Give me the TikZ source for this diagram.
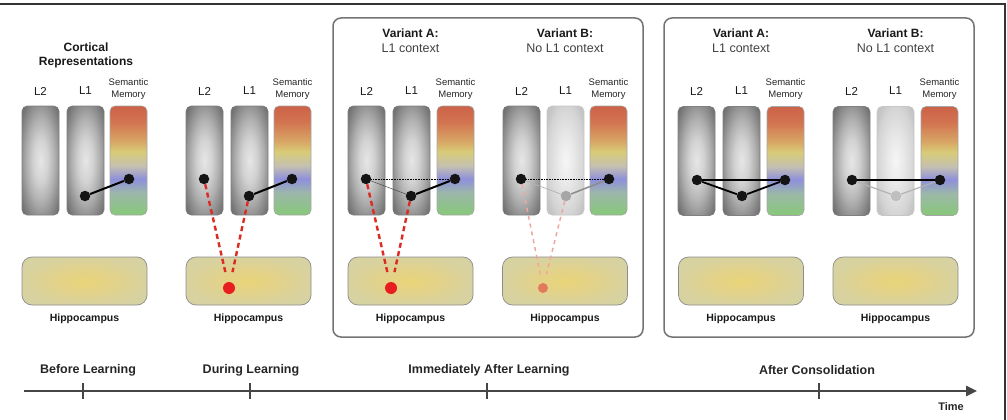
\documentclass[tikz,border=0pt]{standalone}
\usepackage{fontspec}
\setmainfont{Liberation Sans}
\usetikzlibrary{arrows.meta}
\definecolor{gA}{RGB}{230,230,230}
\definecolor{gB}{RGB}{210,210,210}
\definecolor{gC}{RGB}{176,176,176}
\definecolor{gD}{RGB}{148,148,148}
\definecolor{gE}{RGB}{112,112,112}
\definecolor{fA}{RGB}{246,246,246}
\definecolor{fB}{RGB}{234,234,234}
\definecolor{fC}{RGB}{212,212,212}
\definecolor{fD}{RGB}{196,196,196}
\definecolor{hA}{RGB}{232,212,120}
\definecolor{hB}{RGB}{226,210,138}
\definecolor{hC}{RGB}{216,210,160}
\definecolor{hD}{RGB}{212,208,164}
\definecolor{sRed}{RGB}{204,98,72}
\definecolor{sRed2}{RGB}{210,116,80}
\definecolor{sOra}{RGB}{216,168,102}
\definecolor{sYel}{RGB}{216,204,120}
\definecolor{sGry}{RGB}{196,192,176}
\definecolor{sBlu}{RGB}{142,144,220}
\definecolor{sMix}{RGB}{156,184,168}
\definecolor{sGrn}{RGB}{134,200,120}
\definecolor{redline}{RGB}{221,42,34}
\definecolor{redfade}{RGB}{242,165,160}
\definecolor{reddotc}{RGB}{232,30,30}
\definecolor{reddotf}{RGB}{224,122,90}
\definecolor{axis}{RGB}{70,70,70}
\pgfdeclareradialshading{grayrad}{\pgfpointorigin}{color(0bp)=(gA); color(10bp)=(gB); color(19bp)=(gC); color(25bp)=(gD); color(33bp)=(gE); color(50bp)=(gE)}
\pgfdeclareradialshading{fadegray}{\pgfpointorigin}{color(0bp)=(fA); color(10bp)=(fB); color(25bp)=(fC); color(31bp)=(fD); color(50bp)=(fD)}
\pgfdeclareradialshading{hipporad}{\pgfpointorigin}{color(0bp)=(hA); color(12bp)=(hB); color(25bp)=(hC); color(50bp)=(hD)}
\pgfdeclareverticalshading{semantic}{100bp}{color(0bp)=(sGrn); color(25bp)=(sGrn); color(35bp)=(sMix); color(41.5bp)=(sBlu); color(47.5bp)=(sGry); color(54bp)=(sYel); color(58.5bp)=(sOra); color(67.5bp)=(sRed2); color(75bp)=(sRed); color(100bp)=(sRed)}
\newcommand\fsLab{\fontsize{11.5}{13}\selectfont}
\newcommand\fsSem{\fontsize{9.5}{11.5}\selectfont}
\newcommand\fsHd{\fontsize{12}{14}\selectfont\bfseries}
\newcommand\fsCtx{\fontsize{12.5}{14}\selectfont}
\newcommand\fsHip{\fontsize{10.5}{12}\selectfont\bfseries}
\newcommand\fsTl{\fontsize{12.5}{14}\selectfont\bfseries}
\begin{document}
\begin{tikzpicture}[x=1pt,y=-1pt,
  bar/.style={rectangle, rounded corners=5pt, minimum width=37pt, minimum height=109pt, inner sep=0pt, line width=0.6pt},
  graybar/.style={bar, shade, shading=grayrad, draw=black!50},
  fadebar/.style={bar, shade, shading=fadegray, draw=black!22},
  smbar/.style={bar, shade, shading=semantic, draw=black!35},
  hippo/.style={rectangle, rounded corners=10pt, minimum width=125pt, minimum height=48pt, inner sep=0pt, shade, shading=hipporad, draw=black!45, line width=0.7pt},
  dot/.style={circle, fill=black!92, minimum size=10.5pt, inner sep=0pt},
  fadedot/.style={dot, fill=black!35},
  lightdot/.style={dot, fill=black!25},
  rdot/.style={circle, fill=reddotc, minimum size=12pt, inner sep=0pt},
  rdotfade/.style={circle, fill=reddotf, minimum size=10pt, inner sep=0pt},
  link/.style={black, line width=2pt},
  dotlink/.style={black, line width=0.6pt, densely dotted},
  thinlink/.style={black!70, line width=0.5pt},
  palelink/.style={black!30, line width=0.7pt},
  greylink/.style={black!45, line width=1.5pt},
  redlink/.style={redline, line width=2.4pt, dash pattern=on 5pt off 3.5pt, shorten >=10pt},
  redfadelink/.style={redfade, line width=1.5pt, dash pattern=on 4pt off 4pt, shorten >=9pt},
  lab/.style={font=\fsLab, text=black!90},
  sem/.style={font=\fsSem, text=black!85, align=center},
  hd/.style={font=\fsHd, text=black!90, align=center},
  ctx/.style={font=\fsCtx, text=black!75},
  hip/.style={font=\fsHip, text=black!90},
  tl/.style={font=\fsTl, text=black!85},
  panel/.style={rectangle, rounded corners=8pt, draw=black!55, line width=1.5pt, minimum width=310pt, minimum height=319pt, inner sep=0pt}
]
\useasboundingbox (0,0) rectangle (1007,420);
% outer frame (cropped)
\draw[black!80, line width=1.5pt] (0,4) -- (1005,4) -- (1005,420);

% panel frames
\node[panel] (f3) at (488,177.5) {};
\node[panel] (f4) at (819,177.5) {};

% ---------- Panel 1 : before learning ----------
\node[hd] (cr) at (86,55) {Cortical\\Representations};
\node[lab] (p1l2t) at (40.5,91) {L2};
\node[lab] (p1l1t) at (85.5,91) {L1};
\node[sem] (p1smt) at (128.5,89) {Semantic\\Memory};
\node[graybar] (p1l2) at (40.5,160.5) {};
\node[graybar] (p1l1) at (85.5,160.5) {};
\node[smbar] (p1sm) at (128.5,160.5) {};
\node[dot] (p1d1) at (85,196) {};
\node[dot] (p1ds) at (129,179) {};
\draw[link] (p1d1) -- (p1ds);
\node[hippo] (p1h) at (84.5,281) {};
\node[hip] (p1ht) at (84.5,319) {Hippocampus};

% ---------- Panel 2 : during learning ----------
\node[lab] (p2l2t) at (204.5,91) {L2};
\node[lab] (p2l1t) at (249.5,91) {L1};
\node[sem] (p2smt) at (292.5,89) {Semantic\\Memory};
\node[graybar] (p2l2) at (204.5,160.5) {};
\node[graybar] (p2l1) at (249.5,160.5) {};
\node[smbar] (p2sm) at (292.5,160.5) {};
\node[hippo] (p2h) at (248.5,281) {};
\node[hip] (p2ht) at (248.5,319) {Hippocampus};
\node[dot] (p2d2) at (204,179) {};
\node[dot] (p2d1) at (249,196) {};
\node[dot] (p2ds) at (292,179) {};
\node[rdot] (p2r) at (229,288) {};
\draw[link] (p2d1) -- (p2ds);
\draw[redlink] (p2d2) -- (p2r);
\draw[redlink] (p2d1) -- (p2r);

% ---------- Panel 3A : immediately after, variant A ----------
\node[hd] (p3at) at (410.5,33) {Variant A:};
\node[ctx] (p3ac) at (410.5,48) {L1 context};
\node[lab] (p3al2t) at (366.5,91) {L2};
\node[lab] (p3al1t) at (411.5,91) {L1};
\node[sem] (p3asmt) at (455.5,89) {Semantic\\Memory};
\node[graybar] (p3al2) at (366.5,160.5) {};
\node[graybar] (p3al1) at (411.5,160.5) {};
\node[smbar] (p3asm) at (455.5,160.5) {};
\node[hippo] (p3ah) at (410.5,281) {};
\node[hip] (p3aht) at (410.5,319) {Hippocampus};
\node[dot] (p3ad2) at (366,179) {};
\node[dot] (p3ad1) at (411,196) {};
\node[dot] (p3ads) at (455,179) {};
\node[rdot] (p3ar) at (391,288) {};
\draw[dotlink] (p3ad2) -- (p3ads);
\draw[thinlink] (p3ad2) -- (p3ad1);
\draw[link] (p3ad1) -- (p3ads);
\draw[redlink] (p3ad2) -- (p3ar);
\draw[redlink] (p3ad1) -- (p3ar);

% ---------- Panel 3B : immediately after, variant B ----------
\node[hd] (p3bt) at (565,33) {Variant B:};
\node[ctx] (p3bc) at (565,48) {No L1 context};
\node[lab] (p3bl2t) at (521.5,91) {L2};
\node[lab] (p3bl1t) at (565.5,91) {L1};
\node[sem] (p3bsmt) at (608.5,89) {Semantic\\Memory};
\node[graybar] (p3bl2) at (521.5,160.5) {};
\node[fadebar] (p3bl1) at (565.5,160.5) {};
\node[smbar] (p3bsm) at (608.5,160.5) {};
\node[hippo] (p3bh) at (565,281) {};
\node[hip] (p3bht) at (565,319) {Hippocampus};
\node[dot] (p3bd2) at (521,179) {};
\node[fadedot] (p3bd1) at (566,196) {};
\node[dot] (p3bds) at (609,179) {};
\node[rdotfade] (p3br) at (543,288) {};
\draw[dotlink] (p3bd2) -- (p3bds);
\draw[palelink] (p3bd2) -- (p3bd1);
\draw[greylink] (p3bd1) -- (p3bds);
\draw[redfadelink] (p3bd2) -- (p3br);
\draw[redfadelink] (p3bd1) -- (p3br);

% ---------- Panel 4A : after consolidation, variant A ----------
\node[hd] (p4at) at (741,33) {Variant A:};
\node[ctx] (p4ac) at (741,48) {L1 context};
\node[lab] (p4al2t) at (696.5,91) {L2};
\node[lab] (p4al1t) at (741.5,91) {L1};
\node[sem] (p4asmt) at (785.5,89) {Semantic\\Memory};
\node[graybar] (p4al2) at (696.5,161) {};
\node[graybar] (p4al1) at (741.5,161) {};
\node[smbar] (p4asm) at (785.5,161) {};
\node[hippo] (p4ah) at (741,281) {};
\node[hip] (p4aht) at (741,319) {Hippocampus};
\node[dot] (p4ad2) at (697,180) {};
\node[dot] (p4ad1) at (742,196) {};
\node[dot] (p4ads) at (785,180) {};
\draw[link] (p4ad2) -- (p4ads);
\draw[link, line width=1.8pt] (p4ad2) -- (p4ad1);
\draw[link, line width=1.8pt] (p4ad1) -- (p4ads);

% ---------- Panel 4B : after consolidation, variant B ----------
\node[hd] (p4bt) at (895.5,33) {Variant B:};
\node[ctx] (p4bc) at (895.5,48) {No L1 context};
\node[lab] (p4bl2t) at (851.5,91) {L2};
\node[lab] (p4bl1t) at (895.5,91) {L1};
\node[sem] (p4bsmt) at (939.5,89) {Semantic\\Memory};
\node[graybar] (p4bl2) at (851.5,161) {};
\node[fadebar] (p4bl1) at (895.5,161) {};
\node[smbar] (p4bsm) at (939.5,161) {};
\node[hippo] (p4bh) at (895.5,281) {};
\node[hip] (p4bht) at (895.5,319) {Hippocampus};
\node[dot] (p4bd2) at (852,180) {};
\node[lightdot] (p4bd1) at (896,196) {};
\node[dot] (p4bds) at (940,180) {};
\draw[link] (p4bd2) -- (p4bds);
\draw[palelink, line width=1.2pt] (p4bd2) -- (p4bd1);
\draw[palelink, line width=1.2pt] (p4bd1) -- (p4bds);

% ---------- Timeline ----------
\coordinate (t0) at (24,391);
\coordinate (t1) at (977,391);
\draw[axis, line width=2.6pt, -{Triangle[length=11pt,width=10pt]}] (t0) -- (t1);
\foreach \x/\n in {83/k1,250/k2,487/k3,819/k4}{
  \coordinate (\n a) at (\x,383);
  \coordinate (\n b) at (\x,399);
  \draw[axis, line width=1.2pt] (\n a) -- (\n b);
}
\node[tl] (tlb) at (88,370) {Before Learning};
\node[tl] (tld) at (251,370) {During Learning};
\node[tl] (tli) at (489,370) {Immediately After Learning};
\node[tl] (tlc) at (817,370) {After Consolidation};
\node[font=\fontsize{11}{13}\selectfont\bfseries, text=black!85] (tlt) at (951,407) {Time};
\end{tikzpicture}
\end{document}
